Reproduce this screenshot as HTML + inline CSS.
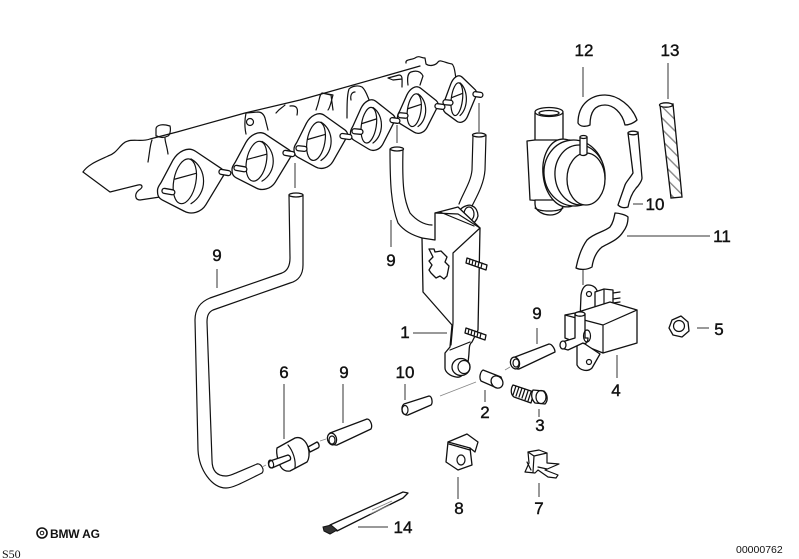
<!DOCTYPE html>
<html><head><meta charset="utf-8"><style>
html,body{margin:0;padding:0;background:#fff}
svg{display:block}
.l{fill:#fff;stroke:#111;stroke-width:1.3;stroke-linejoin:round;stroke-linecap:round}
.n{fill:none;stroke:#111;stroke-width:1.2;stroke-linejoin:round;stroke-linecap:round}
.c{fill:none;stroke:#333;stroke-width:1}
.g{fill:none;stroke:#888;stroke-width:.9}
.t{font-family:"Liberation Sans",sans-serif;font-size:17px;fill:#111;text-anchor:middle;stroke:#111;stroke-width:.4}
</style></head><body>
<svg width="799" height="559" viewBox="0 0 799 559" xmlns="http://www.w3.org/2000/svg">
<defs>
<g id="f">
<path vector-effect="non-scaling-stroke" class="l" d="M-.5,.15C-.5,.1-.47,.06-.45,.03L-.27-.33C-.2-.46-.05-.56.07-.47L.45-.2C.5-.16.5-.1.47-.06L.22.38C.15.5 0,.54-.1.48L-.43.3C-.5.26-.5.2-.5.15Z"/>
<ellipse vector-effect="non-scaling-stroke" class="n" cx="-.09" cy=".02" rx=".165" ry=".36" transform="rotate(10)"/>
<path vector-effect="non-scaling-stroke" class="n" d="M0-.35C.25-.2.25.2 0,.36M-.24-.03L.07-.12"/>
</g>
<pattern id="h" width="8" height="8" patternUnits="userSpaceOnUse" patternTransform="rotate(-45)"><rect width="8" height="8" fill="#fff"/><rect width="1.4" height="8" fill="#888"/></pattern>
</defs>

<!-- manifold rail -->
<path class="n" d="M83,172L110,192L138,185C142,184 144,187 139,190C134,194 135,200 140,200L160,197"/>
<path class="n" d="M83,172C88,164 100,160 108,156C118,153 120,143 128,141C134,139 142,142 150,139L177,132L245,113L300,100L385,76L420,66"/>
<path class="n" d="M148,162C150,150 150,145 152,140M168,154C167,146 165,142 165,138"/>
<path class="n" d="M156,129C156,126 160,124 166,125L170,126C171,130 170,135 168,136M156,129L156,136M157,136C162,139 166,137 168,136"/>
<path class="n" d="M246,134C244,125 245,118 246,113L258,112C262,112 264,115 265,118L268,130"/>
<circle class="n" cx="250" cy="122" r="3.5"/>
<path class="n" d="M276,113C280,108 282,108 285,105M290,106C298,105 298,110 297,115"/>
<path class="n" d="M316,110C320,100 319,95 322,93L331,95L333,110M322,93L333,95C331,102 330,108 328,110"/>
<path class="n" d="M347,118C347,105 347,95 349,89C352,86 358,85 362,87C366,90 368,98 370,102"/>
<path class="n" d="M351,100C350,95 352,92 355,92"/>
<path class="n" d="M388,78L399,75C403,75 402,80 402,87M388,78L393,80L402,79"/>
<path class="n" d="M408,85C407,78 408,73 411,72C417,70 421,72 423,76L420,85"/>
<path class="n" d="M406,63C405,59 412,60 415,58C419,55 421,58 425,58L426,64C430,67 436,65 438,62C440,59 445,63 452,64C455,66 455,75 456,78"/>

<!-- flanges -->
<use href="#f" transform="translate(191,181) scale(67,63)"/>
<use href="#f" transform="translate(262,161) scale(60,56)"/>
<use href="#f" transform="translate(321,141) scale(54,54)"/>
<use href="#f" transform="translate(373,125) scale(45,50)"/>
<use href="#f" transform="translate(418,110) scale(41,46)"/>
<use href="#f" transform="translate(460,99) scale(34,46)"/>
<g>
<rect class="l" x="162" y="189" width="13" height="5" rx="2.5" transform="rotate(10 168 191)"/>
<rect class="l" x="219" y="170" width="12" height="5" rx="2.5" transform="rotate(10 225 172)"/>
<rect class="l" x="234" y="166" width="13" height="5" rx="2.5" transform="rotate(10 240 168)"/>
<rect class="l" x="283" y="151" width="12" height="5" rx="2.5" transform="rotate(10 289 153)"/>
<rect class="l" x="296" y="146" width="11" height="5" rx="2.5" transform="rotate(6 301 148)"/>
<rect class="l" x="340" y="134" width="12" height="5" rx="2.5" transform="rotate(8 346 136)"/>
<rect class="l" x="352" y="129" width="11" height="5" rx="2.5" transform="rotate(5 357 131)"/>
<rect class="l" x="390" y="118" width="10" height="5" rx="2.5" transform="rotate(8 395 120)"/>
<rect class="l" x="398" y="113" width="10" height="5" rx="2.5" transform="rotate(5 403 115)"/>
<rect class="l" x="435" y="104" width="10" height="5" rx="2.5" transform="rotate(8 440 106)"/>
<rect class="l" x="443" y="100" width="10" height="5" rx="2.5" transform="rotate(5 448 102)"/>
<rect class="l" x="473" y="92" width="10" height="5" rx="2.5" transform="rotate(8 478 94)"/>
</g>

<!-- long hose 9 left -->
<path class="n" d="M289,195L290,258C290,266 287,271 282,273L210,298C200,302 195,309 195,320L198,450C199,470 212,488 226,488C232,488 238,485 262,473"/>
<path class="n" d="M303,195L303,265C303,275 298,281 290,283L213,310C209,312 207,315 207,322L212,460C212,472 218,476 226,476C230,476 236,473 257,464"/>
<ellipse class="l" cx="296" cy="195" rx="7" ry="2"/>
<path class="n" d="M257,464C261,463 265,470 262,473"/>

<!-- U hoses -->
<path class="n" d="M390,149C390,183 391,205 398,223C404,231 412,235 422,238"/>
<path class="n" d="M403,149C402,187 404,200 410,213C416,220 424,225 432,225"/>
<ellipse class="l" cx="397" cy="149" rx="6.5" ry="2"/>
<path class="n" d="M473,135L472,170C471,182 463,193 459,204"/>
<path class="n" d="M486,135L485,170C484,184 477,196 472,206"/>
<ellipse class="l" cx="479" cy="135" rx="6.5" ry="2"/>

<!-- roller behind bracket -->
<path class="l" d="M460,210C463,206 470,204 472,206C476,207 478,212 478,216C477,220 474,224 470,224L462,221C459,217 458,213 460,210Z"/>
<ellipse class="n" cx="469" cy="214" rx="5" ry="7"/>

<!-- bracket 1 -->
<path class="l" d="M435,213L458,207L480,228L478,330L472,342C468,345 470,350 468,362C466,375 460,378 456,377C450,376 445,372 445,368L445,353L450,347L452,325L423,292L422,238L435,240Z"/>
<path class="n" d="M435,213L458,214L480,228M440,212L474,226"/>
<path class="n" d="M480,228L453,253L453,323L451,345"/>
<path class="n" d="M450,350L470,342"/>
<path class="l" d="M429,249L434,249L435,252L441,251L447,257L445,262L449,266L447,276L444,279L440,276L436,278L431,273L429,270L432,265L429,261L433,257Z"/>
<ellipse class="l" cx="461" cy="367" rx="9" ry="8.5"/>
<ellipse class="n" cx="464" cy="367" rx="6" ry="6.5"/>
<path class="l" d="M467,258L487,265L486,270L466,263Z"/>
<path class="n" d="M470,259L469,264M473,260L472,265M476,261L475,266M479,262L478,267M482,263L481,268"/>
<path class="l" d="M466,328L486,335L485,340L465,333Z"/>
<path class="n" d="M469,329L468,334M472,330L471,335M475,331L474,336M478,332L477,337M481,333L480,338"/>

<!-- 12 U hose -->
<path class="l" d="M578,123C578,103 592,95 605,95C618,95 632,106 637,120C634,123 629,125 625,125C622,112 613,105 605,105C595,105 590,112 590,125C586,127 580,127 578,123Z"/>

<!-- 10 curved hose -->
<path class="l" d="M628,133L633,173C630,178 626,182 625,185L618,205C621,208 625,208 628,207C630,196 634,190 638,186C641,182 642,180 642,178L638,132Z"/>
<ellipse class="l" cx="633" cy="133" rx="5" ry="1.8"/>

<!-- 13 hatched -->
<path fill="url(#h)" stroke="#111" stroke-width="1.3" d="M660,105L673,104L682,197L671,198Z"/>
<ellipse class="l" cx="666" cy="105" rx="6.5" ry="2.2"/>

<!-- valve -->
<path class="l" d="M535,113L563,113L563,145L535,143Z"/>
<ellipse class="l" cx="549" cy="112" rx="14" ry="4.5"/>
<ellipse class="l" cx="549" cy="113" rx="10" ry="2.5"/>
<path class="l" d="M527,141L535,140L570,140L571,203L530,200Z"/>
<path class="l" d="M535,204C535,212 545,215 550,215C556,215 563,212 563,204L563,200L535,200Z"/>
<path class="n" d="M535,208C540,212 558,212 563,208"/>
<ellipse class="l" cx="565" cy="173" rx="22" ry="34" transform="rotate(-6 565 173)"/>
<ellipse class="l" cx="574" cy="173" rx="30" ry="33" transform="rotate(-6 574 173)"/>
<ellipse class="l" cx="580" cy="175" rx="25" ry="30" transform="rotate(-6 580 175)"/>
<ellipse class="l" cx="586" cy="179" rx="19" ry="26"/>
<path class="l" d="M580,137L587,137L587,154C585,156 581,156 580,154Z"/>
<ellipse class="l" cx="583.5" cy="137" rx="3.5" ry="1.5"/>

<!-- 11 hose -->
<path class="l" d="M615,213C619,213 626,215 628,217C628,224 626,228 623,232C618,240 609,243 602,247C596,252 593,260 592,267C587,270 580,270 576,268C578,258 582,247 587,240C594,233 604,232 610,227C613,223 614,218 615,213Z"/>

<!-- solenoid 4 -->
<path class="l" d="M580,320L581,295C582,288 585,285 588,285C594,285 597,288 598,294L598,320Z"/>
<circle class="n" cx="589" cy="294" r="2.5"/>
<path class="l" d="M595,292L604,289L613,290L613,308L604,309L595,307Z"/>
<path class="n" d="M604,290L604,309M613,293L620,292M613,299L620,298M613,303L620,302"/>
<path class="l" d="M565,315L575,313L610,302L637,310L637,343L603,353L565,338Z"/>
<path class="n" d="M565,315L603,325L637,310M603,325L603,353"/>
<path class="l" d="M577,345L577,365C580,371 588,372 592,368L600,354L579,340Z"/>
<circle class="n" cx="589" cy="362" r="2.5"/>
<path class="l" d="M575,314L585,314L585,338L588,338C588,344 584,344 583,343L568,350L561,348C559,345 561,343 562,342L575,338Z"/>
<ellipse class="n" cx="587" cy="336" rx="3.5" ry="6"/>
<ellipse class="l" cx="563" cy="345" rx="3" ry="4"/>
<ellipse class="l" cx="580" cy="314" rx="5" ry="2.2"/>

<!-- small parts -->
<path class="l" d="M515,357L549,344C552,344 555,349 555,352L519,369C513,370 510,358 515,357Z"/>
<ellipse class="l" cx="515" cy="363" rx="4.5" ry="6" transform="rotate(-15 515 363)"/>
<ellipse class="n" cx="516" cy="363" rx="3" ry="4"/>

<path class="l" d="M483,370L501,377C503,381 501,387 497,388L481,381C479,378 480,372 483,370Z"/>
<ellipse class="l" cx="497" cy="382" rx="5.5" ry="6.5" transform="rotate(-40 497 382)"/>

<path class="l" d="M404,404L429,396C432,396 433,403 431,405L408,415C402,416 400,407 404,404Z"/>
<ellipse class="n" cx="405" cy="410" rx="3" ry="4.5"/>

<!-- bolt 3 -->
<path class="l" d="M513,385L534,392L531,403L514,397C510,394 511,388 513,385Z"/>
<path class="n" d="M516,386L513,395M519,387L516,396M522,388L519,397M525,389L522,398M528,391L525,400M531,392L528,401"/>
<path class="l" d="M533,390L544,391C548,395 548,401 545,404L535,403C531,399 531,394 533,390Z"/>
<ellipse class="n" cx="541" cy="397" rx="5" ry="6.5"/>

<!-- 6 connector -->
<path class="l" d="M308,447L317,442C319,443 320,447 318,448L310,452Z"/>
<path class="l" d="M277,448L295,438C301,436 306,441 308,447C310,453 309,459 307,462L290,471C284,472 280,468 278,460C277,456 276,452 277,448Z"/>
<path class="n" d="M288,445C293,451 296,460 295,468"/>
<path class="l" d="M270,461L288,455C291,456 291,459 290,460L272,468C268,468 268,463 270,461Z"/>
<ellipse class="n" cx="271" cy="464" rx="2.5" ry="4" transform="rotate(-15 271 464)"/>

<!-- 9 lower -->
<path class="l" d="M330,433L367,419C370,419 373,425 371,429L337,445C331,446 326,437 330,433Z"/>
<ellipse class="l" cx="332" cy="439" rx="4.5" ry="6" transform="rotate(-15 332 439)"/>
<ellipse class="n" cx="332" cy="440" rx="3" ry="4"/>

<!-- 14 strap -->
<path class="l" d="M330,525L403,492L408,493L403,498L337,531Z"/>
<path class="g" d="M372,510L392,501M370,514L390,505"/>
<path d="M323,527L331,525L337,530L330,534L324,531Z" fill="#333" stroke="#111"/>

<!-- 8 clip -->
<path class="l" d="M448,442L467,434L478,442L475,452L470,448L472,465L458,470L446,462Z"/>
<path class="n" d="M448,442L470,448M449,444L470,450"/>
<ellipse class="n" cx="461" cy="460" rx="4" ry="5"/>

<!-- 7 clip -->
<path class="n" d="M528,452L539,450L547,453L547,463L559,464L545,470L558,475L556,478L548,477L538,470L535,473L525,472L529,463Z"/>
<path class="n" d="M528,452L534,456L547,453M534,456L533,472M538,467L547,469M527,462L531,470"/>

<!-- leaders -->
<g class="c">
<path d="M583,67L583,97M668,63L668,99M633,204L643,204M627,236L710,236M217,269L217,288M391,220L391,247M413,333L447,333M537,328L537,344M697,328L709,328M617,355L617,378M284,384L284,439M343,384L343,423M405,384L405,400M485,390L485,402M539,409L539,417M458,477L458,499M539,483L539,497M358,527L388,527"/>
<path d="M295,163L295,188M397,125L397,143M479,103L479,132M583,270L583,285"/>
</g>
<path class="g" d="M440,396L476,382M505,370L510,367M266,465L262,467M320,441L326,439"/>

<!-- labels -->
<g class="t">
<text x="584" y="56">12</text>
<text x="670" y="56">13</text>
<text x="655" y="210">10</text>
<text x="722" y="242">11</text>
<text x="217" y="261">9</text>
<text x="391" y="266">9</text>
<text x="405" y="338">1</text>
<text x="537" y="319">9</text>
<text x="719" y="335">5</text>
<text x="616" y="396">4</text>
<text x="284" y="378">6</text>
<text x="344" y="378">9</text>
<text x="405" y="378">10</text>
<text x="485" y="418">2</text>
<text x="540" y="431">3</text>
<text x="459" y="514">8</text>
<text x="539" y="514">7</text>
<text x="403" y="533">14</text>
</g>

<!-- nut 5 -->
<path class="l" d="M672,320L681,316L688,322L689,331L682,337L673,335L669,328Z"/>
<circle class="n" cx="679" cy="326" r="5.5"/>

<!-- footer -->
<circle cx="42" cy="533" r="5" fill="none" stroke="#111" stroke-width="1.6"/>
<circle cx="42" cy="533" r="1.8" fill="none" stroke="#111" stroke-width="1"/>
<text x="50" y="538" font-family="Liberation Sans, sans-serif" font-size="12" font-weight="bold" fill="#111" textLength="50">BMW AG</text>
<text x="2" y="558" font-family="Liberation Serif, serif" font-size="12" fill="#111">S50</text>
<text x="736" y="553" font-family="Liberation Sans, sans-serif" font-size="10.5" fill="#111">00000762</text>
</svg>
</body></html>
